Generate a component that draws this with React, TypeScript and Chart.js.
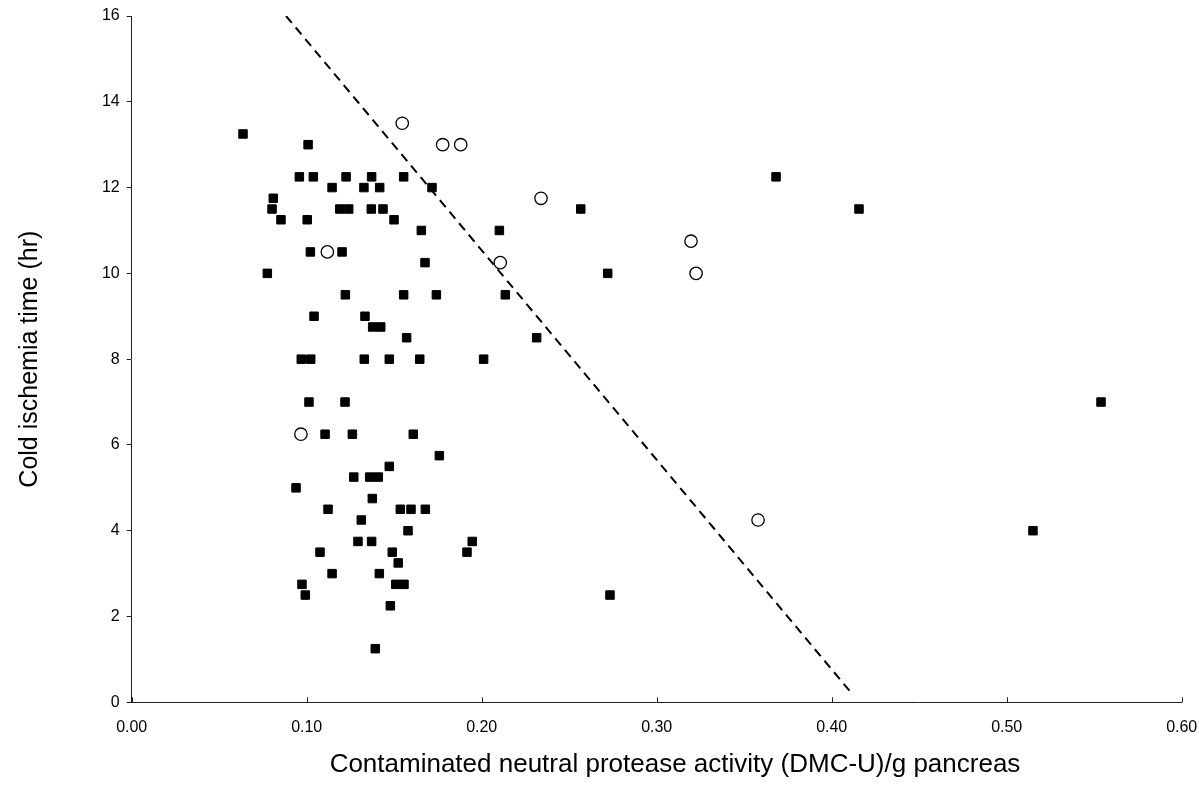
import React, { useEffect, useRef } from "react";
import { Chart, registerables } from "chart.js";

Chart.register(...registerables);

// Filled squares
const squareX = [
  0.0636, 0.1008,
  0.0958, 0.1038, 0.1225, 0.1371, 0.1554, 0.3682,
  0.1145, 0.1327, 0.1417, 0.1716,
  0.0809,
  0.0802, 0.1189, 0.124, 0.1369, 0.1436, 0.2566, 0.4156,
  0.0853, 0.1003, 0.1499,
  0.1655, 0.2101,
  0.1021, 0.1202,
  0.1676,
  0.0775, 0.272,
  0.1221, 0.1554, 0.1741, 0.2135,
  0.1042, 0.1333,
  0.1377, 0.1423,
  0.1571, 0.2314,
  0.0969, 0.1023, 0.1329, 0.1472, 0.1646, 0.2011,
  0.1013, 0.1219, 0.5539,
  0.1105, 0.1261, 0.1609,
  0.1758,
  0.1472,
  0.1269, 0.136, 0.1409,
  0.0939,
  0.1375,
  0.1122, 0.1535, 0.1596, 0.1678,
  0.1312,
  0.1579, 0.515,
  0.1293, 0.1371, 0.1946,
  0.1076, 0.1489, 0.1916,
  0.1523,
  0.1145, 0.1415,
  0.0973, 0.1509, 0.1556,
  0.0992, 0.2733,
  0.1478,
  0.1392,
];
const squareY = [
  13.25, 13.0,
  12.25, 12.25, 12.25, 12.25, 12.25, 12.25,
  12.0, 12.0, 12.0, 12.0,
  11.75,
  11.5, 11.5, 11.5, 11.5, 11.5, 11.5, 11.5,
  11.25, 11.25, 11.25,
  11.0, 11.0,
  10.5, 10.5,
  10.25,
  10.0, 10.0,
  9.5, 9.5, 9.5, 9.5,
  9.0, 9.0,
  8.75, 8.75,
  8.5, 8.5,
  8.0, 8.0, 8.0, 8.0, 8.0, 8.0,
  7.0, 7.0, 7.0,
  6.25, 6.25, 6.25,
  5.75,
  5.5,
  5.25, 5.25, 5.25,
  5.0,
  4.75,
  4.5, 4.5, 4.5, 4.5,
  4.25,
  4.0, 4.0,
  3.75, 3.75, 3.75,
  3.5, 3.5, 3.5,
  3.25,
  3.0, 3.0,
  2.75, 2.75, 2.75,
  2.5, 2.5,
  2.25,
  1.25,
];

// Open circles
const circleX = [0.1546, 0.1777, 0.188, 0.2339, 0.1118, 0.2106, 0.3196, 0.3225, 0.0967, 0.3579];
const circleY = [13.5, 13.0, 13.0, 11.75, 10.5, 10.25, 10.75, 10.0, 6.25, 4.25];

// Dashed reference line end points
const lineX = [0.0882, 0.4116];
const lineY = [16.0, 0.2];

const xTicks = [0, 0.1, 0.2, 0.3, 0.4, 0.5, 0.6];
const yTicks = [0, 2, 4, 6, 8, 10, 12, 14, 16];

const xTitle = "Contaminated neutral protease activity (DMC-U)/g pancreas";
const yTitle = "Cold ischemia time (hr)";

const FONT = "'Liberation Sans', Arial, sans-serif";

const extras = {
  id: "extras",
  afterDatasetsDraw(chart: any) {
    const xs = chart.scales.x;
    const ctx = chart.ctx;
    ctx.save();
    ctx.strokeStyle = "#222";
    ctx.lineWidth = 1;
    ctx.beginPath();
    xs.ticks.forEach((t: any) => {
      const px = Math.round(xs.getPixelForValue(t.value)) + 0.5;
      ctx.moveTo(px, xs.top);
      ctx.lineTo(px, xs.top - 5);
    });
    ctx.stroke();
    ctx.fillStyle = "#000";
    ctx.font = `26px ${FONT}`;
    ctx.textAlign = "center";
    ctx.textBaseline = "middle";
    ctx.fillText(xTitle, 675, 765);
    ctx.restore();
  },
};

export default function App() {
  const ref = useRef<HTMLCanvasElement | null>(null);
  useEffect(() => {
    if (!ref.current) return;
    const chart = new Chart(ref.current, {
      type: "scatter",
      data: {
        datasets: [
          {
            label: "squares",
            data: squareX.map((x, i) => ({ x, y: squareY[i] })),
            pointStyle: "rect",
            pointRadius: 6,
            backgroundColor: "#000",
            borderColor: "#000",
            borderWidth: 1,
            order: 2,
          },
          {
            label: "circles",
            data: circleX.map((x, i) => ({ x, y: circleY[i] })),
            pointStyle: "circle",
            pointRadius: 6.2,
            backgroundColor: "#fff",
            borderColor: "#000",
            borderWidth: 1.3,
            order: 1,
          },
          {
            type: "line",
            label: "line",
            data: lineX.map((x, i) => ({ x, y: lineY[i] })),
            borderColor: "#000",
            borderWidth: 2,
            borderDash: [9, 6],
            pointRadius: 0,
            fill: false,
            order: 0,
          } as any,
        ],
      },
      options: {
        animation: false,
        responsive: true,
        maintainAspectRatio: false,
        layout: { padding: { top: 16, right: 17.3, left: 0, bottom: 0 } },
        plugins: { legend: { display: false }, tooltip: { enabled: false } },
        scales: {
          x: {
            type: "linear",
            min: 0,
            max: 0.6,
            afterBuildTicks: (s: any) => {
              s.ticks = xTicks.map((v) => ({ value: v }));
            },
            afterFit: (s: any) => {
              s.height = 101.7;
              s.paddingLeft = 0;
              s.paddingRight = 0;
            },
            grid: { display: true, drawOnChartArea: false, drawTicks: false },
            border: { display: true, color: "#222", width: 1 },
            ticks: {
              color: "#000",
              font: { family: FONT, size: 16 },
              padding: 16,
              maxRotation: 0,
              callback: (v: any) => Number(v).toFixed(2),
            },
            title: { display: false },
          },
          y: {
            type: "linear",
            min: 0,
            max: 16,
            afterBuildTicks: (s: any) => {
              s.ticks = yTicks.map((v) => ({ value: v }));
            },
            afterFit: (s: any) => {
              s.width = 131.7;
              s.paddingTop = 0;
              s.paddingBottom = 0;
            },
            grid: { display: true, drawOnChartArea: false, drawTicks: true, tickLength: 5, color: "#222" },
            border: { display: true, color: "#222", width: 1 },
            ticks: {
              color: "#000",
              font: { family: FONT, size: 16 },
              padding: 7,
              callback: (v: any) => String(v),
            },
            title: {
              display: true,
              text: yTitle,
              color: "#000",
              font: { family: FONT, size: 25 },
              padding: { top: 15, bottom: 0 },
            },
          },
        },
      },
      plugins: [extras],
    } as any);
    return () => chart.destroy();
  }, []);
  return (
    <div style={{ position: "fixed", left: 0, top: 0, width: 1199, height: 804, background: "#fff" }}>
      <canvas ref={ref} />
    </div>
  );
}
